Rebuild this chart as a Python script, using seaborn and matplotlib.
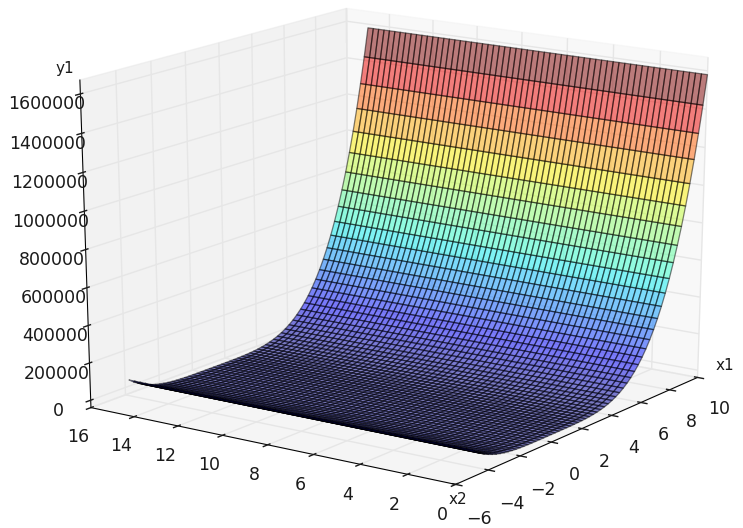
"""Surface of y1 over x1 and x2."""
import matplotlib
matplotlib.use('Agg')
import matplotlib.pyplot as plt
import numpy as np
import seaborn as sns
from mpl_toolkits.mplot3d import Axes3D  # noqa: F401

X1_MIN, X1_MAX = -5, 10
X2_MIN, X2_MAX = 0, 15
N_COLS = 61

Y1_ROWS = [98750, 80440, 64800, 51560, 40450, 31250, 23720, 17630, 12800, 9040,
           6170, 4050, 2528, 1482, 800, 386, 158, 50, 10, 1, 0,
           1, 10, 50, 158, 386, 800, 1482, 2528, 4050, 6170,
           9040, 12800, 17630, 23720, 31250, 40450, 51560, 64800, 80440, 98750,
           120030, 144590, 172730, 204770, 241090, 282050, 328010, 379360, 436520, 499930,
           569990, 647170, 731940, 824780, 926130, 1036640, 1156750, 1286930, 1427860, 1580000]
X1_TICKS = [-6, -4, -2, 0, 2, 4, 6, 8, 10]
X2_TICKS = [0, 2, 4, 6, 8, 10, 12, 14, 16]
Y1_TICKS = [0, 200000, 400000, 600000, 800000, 1000000, 1200000, 1400000, 1600000]

sns.set_theme(style='white')
plt.style.use('classic')
cmap = matplotlib.colormaps['jet']

x1 = np.linspace(X1_MIN, X1_MAX, len(Y1_ROWS))
x2 = np.linspace(X2_MIN, X2_MAX, N_COLS)
X2, X1 = np.meshgrid(x2, x1)
Y1 = np.tile(np.array(Y1_ROWS, dtype=float)[:, None], (1, N_COLS))

fig = plt.figure(figsize=(7.43, 5.28), dpi=100, facecolor='white')
ax = fig.add_axes([15.5 / 743, 0, 745 / 743, 574 / 528], projection='3d')
# let the cube stretch with the axes box instead of staying square
ax.apply_aspect = lambda position=None: None
ax.set_facecolor('white')
surf = ax.plot_surface(X1, X2, Y1, rstride=1, cstride=1, cmap=cmap, alpha=0.5,
                       linewidth=0.9, edgecolor='black', antialiased=True)
surf.set_clip_on(False)

ax.set_xlim(-6, 10)
ax.set_ylim(0, 16)
ax.set_zlim(-40000, 1670000)
ax.set_xticks(X1_TICKS)
ax.set_yticks(X2_TICKS)
ax.set_zticks(Y1_TICKS)
ax.tick_params(labelsize=12.5)
ax.tick_params(axis='x', pad=7)
ax.tick_params(axis='z', pad=5)
ax.view_init(elev=18.5, azim=-145)
ax.set_box_aspect((1, 1, 1))

fig.text(725 / 743, 1 - 365 / 528, 'x1', fontsize=11, ha='center', va='center')
fig.text(458 / 743, 1 - 500 / 528, 'x2', fontsize=11, ha='center', va='center')
fig.text(65 / 743, 1 - 68 / 528, 'y1', fontsize=11, ha='center', va='center')

fig.savefig('out.png', dpi=100)
